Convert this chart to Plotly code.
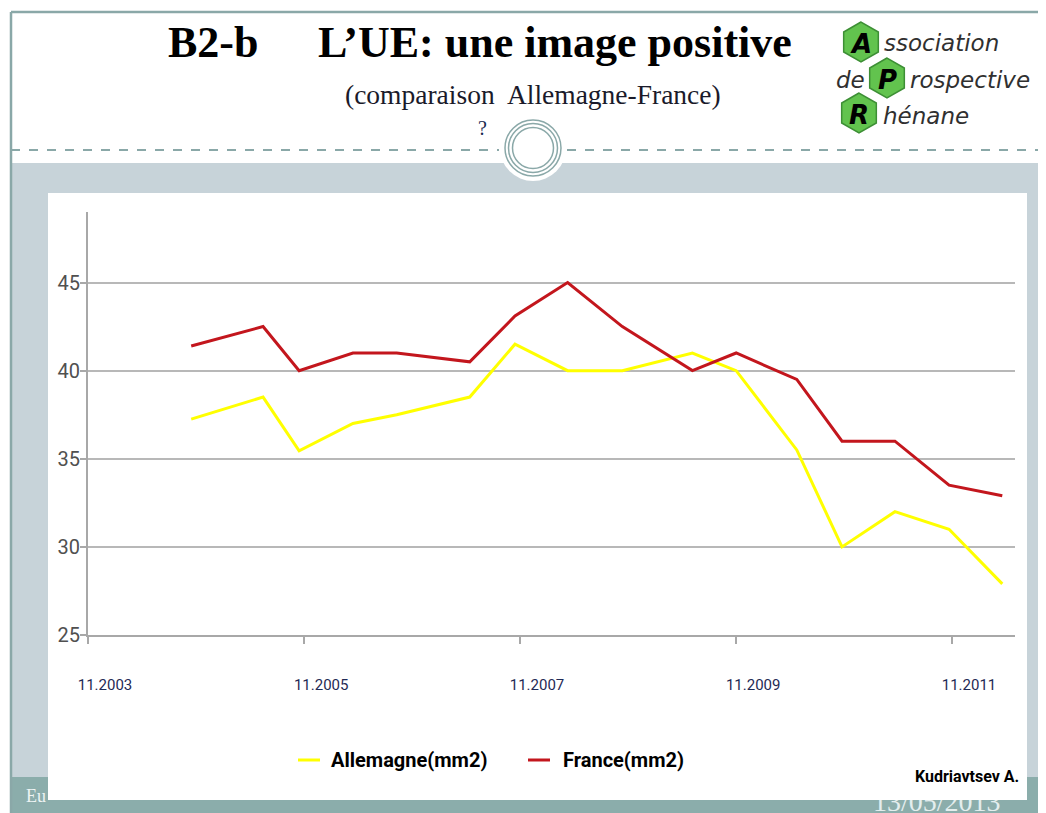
import math
import plotly.graph_objects as go

# ---------------- data ----------------
dates = ["2004-10-15", "2005-06-15", "2005-10-15", "2006-04-15", "2006-09-10",
         "2007-05-15", "2007-10-15", "2008-04-10", "2008-10-12", "2009-06-06",
         "2009-11-01", "2010-05-25", "2010-10-25", "2011-04-22", "2011-10-22",
         "2012-04-19"]
allemagne = [37.25, 38.5, 35.45, 37.0, 37.5, 38.5, 41.5, 40.0, 40.0, 41.0,
             40.0, 35.5, 30.0, 32.0, 31.0, 27.9]
france = [41.4, 42.5, 40.0, 41.0, 41.0, 40.5, 43.1, 45.0, 42.5, 40.0,
          41.0, 39.5, 36.0, 36.0, 33.5, 32.9]
x_tickvals = ["2003-11-01", "2005-11-01", "2007-11-01", "2009-11-01", "2011-11-01"]
x_ticktext = ["11.2003", "11.2005", "11.2007", "11.2009", "11.2011"]
y_tickvals = [25, 30, 35, 40, 45]
series_names = ["Allemagne(mm2)", "France(mm2)"]

# ---------------- geometry helpers ----------------
OFF = 8  # page body margin
W, H = 1046 - OFF, 813 - OFF
ML, MR, MT, MB = 80, 31, 204, 178
PW, PH = W - ML - MR, H - MT - MB


def fx(x):  # screen px -> paper
    return (x - OFF - ML) / PW


def fy(y):
    return (H - MB - (y - OFF)) / PH


YEL = "#ffff00"
RED = "#c3161d"
FRAME = "#8aa8a8"
NARROW = "Roboto, Liberation Sans, sans-serif"
SERIF = "Liberation Serif, Times New Roman, serif"
SCRIPT = "DejaVu Sans, sans-serif"

fig = go.Figure()
fig.add_trace(go.Scatter(x=dates, y=allemagne, mode="lines", name=series_names[0],
                         line=dict(color=YEL, width=3), showlegend=False))
fig.add_trace(go.Scatter(x=dates, y=france, mode="lines", name=series_names[1],
                         line=dict(color=RED, width=3), showlegend=False))

shapes = []


def rect(x0, y0, x1, y1, fill, layer="below"):
    shapes.append(dict(type="rect", xref="paper", yref="paper",
                       x0=fx(x0), x1=fx(x1), y0=fy(y1), y1=fy(y0),
                       fillcolor=fill, line=dict(width=0), layer=layer))


def line(x0, y0, x1, y1, color, width, dash="solid", layer="below"):
    shapes.append(dict(type="line", xref="paper", yref="paper",
                       x0=fx(x0), x1=fx(x1), y0=fy(y0), y1=fy(y1),
                       line=dict(color=color, width=width, dash=dash), layer=layer))


def circle(cx, cy, r, fill=None, color=None, width=0, layer="below"):
    shapes.append(dict(type="circle", xref="paper", yref="paper",
                       x0=fx(cx - r), x1=fx(cx + r), y0=fy(cy + r), y1=fy(cy - r),
                       fillcolor=fill if fill else "rgba(0,0,0,0)",
                       line=dict(color=color if color else "rgba(0,0,0,0)", width=width),
                       layer=layer))


def hexagon(cx, cy, r):
    pts = []
    for k in range(6):
        a = math.radians(90 + 60 * k)
        pts.append((fx(cx + r * math.cos(a)), fy(cy - r * math.sin(a))))
    path = "M " + " L ".join(f"{px},{py}" for px, py in pts) + " Z"
    shapes.append(dict(type="path", xref="paper", yref="paper", path=path,
                       fillcolor="#62c34e", line=dict(color="#3d8f35", width=1.5),
                       layer="below"))


# background bands
rect(11, 163, 1060, 777, "#c7d3d9")
rect(11, 777, 1060, 830, "#8badab")
# notch + ornament
circle(533, 148, 33, fill="white")
for rr in (28, 24.5, 20.5):
    circle(533, 148, rr, color=FRAME, width=1.5)
# dashed separator
line(11, 150, 499, 150, FRAME, 2, dash="dash")
line(567, 150, 1060, 150, FRAME, 2, dash="dash")
# frame
line(11, 12, 1060, 12, FRAME, 2.5)
line(11, 12, 11, 830, FRAME, 2.5)
# white chart panel
rect(48, 193, 1027, 800, "white")
# legend samples
line(298, 760, 320, 760, YEL, 3)
line(528, 760, 550, 760, RED, 3)
# logo hexagons
hexagon(861, 42, 20)
hexagon(887, 78, 20)
hexagon(859, 113, 20)

ann = []


def text(x, y, s, size, color="black", family=SERIF, xanchor="left", yanchor="middle", **kw):
    ann.append(dict(x=fx(x), y=fy(y), xref="paper", yref="paper", text=s,
                    showarrow=False, xanchor=xanchor, yanchor=yanchor,
                    font=dict(size=size, color=color, family=family), **kw))


text(166, 42, "<b>B2-b</b>", 44)
text(316, 42, "<b>L’UE: une image positive</b>", 44)
text(533, 94, "(comparaison  Allemagne-France)", 27.5, color="#1a1a2a", xanchor="center")
text(482, 128, "?", 20, color="#1a2a50", xanchor="center")
# logo letters and words
text(861, 44, "<b><i>A</i></b>", 26, family=SCRIPT, xanchor="center")
text(887, 80, "<b><i>P</i></b>", 26, family=SCRIPT, xanchor="center")
text(859, 115, "<b><i>R</i></b>", 26, family=SCRIPT, xanchor="center")
text(882, 43, "<i>ssociation</i>", 23, color="#303030", family=SCRIPT)
text(834, 80, "<i>de</i>", 23, color="#303030", family=SCRIPT)
text(908, 80, "<i>rospective</i>", 23, color="#303030", family=SCRIPT)
text(881, 116, "<i>hénane</i>", 23, color="#303030", family=SCRIPT)
# footer
text(24, 796, "Eu", 18, color="#eef4f4")
text(937, 801, "13/05/2013", 28, color="#e4eeee", xanchor="center")
ann.append(dict(x=fx(850), y=fy(780), xref="paper", yref="paper", text=" ",
                showarrow=False, xanchor="left", yanchor="top", width=177, height=20,
                bgcolor="white", borderpad=0, borderwidth=0))
text(1021, 776, "<b>Kudriavtsev A.</b>", 16, family=NARROW, xanchor="right")
# legend labels
text(329, 760, "<b>" + series_names[0] + "</b>", 20, family=NARROW)
text(561, 760, "<b>" + series_names[1] + "</b>", 20, family=NARROW)

fig.update_layout(
    width=W, height=H,
    margin=dict(l=ML, r=MR, t=MT, b=MB, pad=0),
    paper_bgcolor="white", plot_bgcolor="rgba(0,0,0,0)",
    shapes=shapes, annotations=ann, showlegend=False,
    xaxis=dict(type="date", range=["2003-11-01", "2012-06-01"],
               tickvals=x_tickvals, ticktext=x_ticktext,
               showgrid=False, zeroline=False,
               showline=True, linecolor="#a8a8a8", linewidth=2,
               ticks="outside", ticklen=7, tickwidth=2, tickcolor="#a8a8a8",
               tickfont=dict(size=15, color="#1f2a55", family=NARROW),
               ticklabelshift=17, ticklabelstandoff=28),
    yaxis=dict(range=[25, 49], tickvals=y_tickvals,
               showgrid=True, gridcolor="#b8b8b8", gridwidth=2, zeroline=False,
               showline=True, linecolor="#a8a8a8", linewidth=2,
               ticks="outside", ticklen=6, tickwidth=2, tickcolor="#a8a8a8",
               tickfont=dict(size=20, color="#505050", family=NARROW),
               ticklabelstandoff=-4),
)

fig.write_html("out.html")
